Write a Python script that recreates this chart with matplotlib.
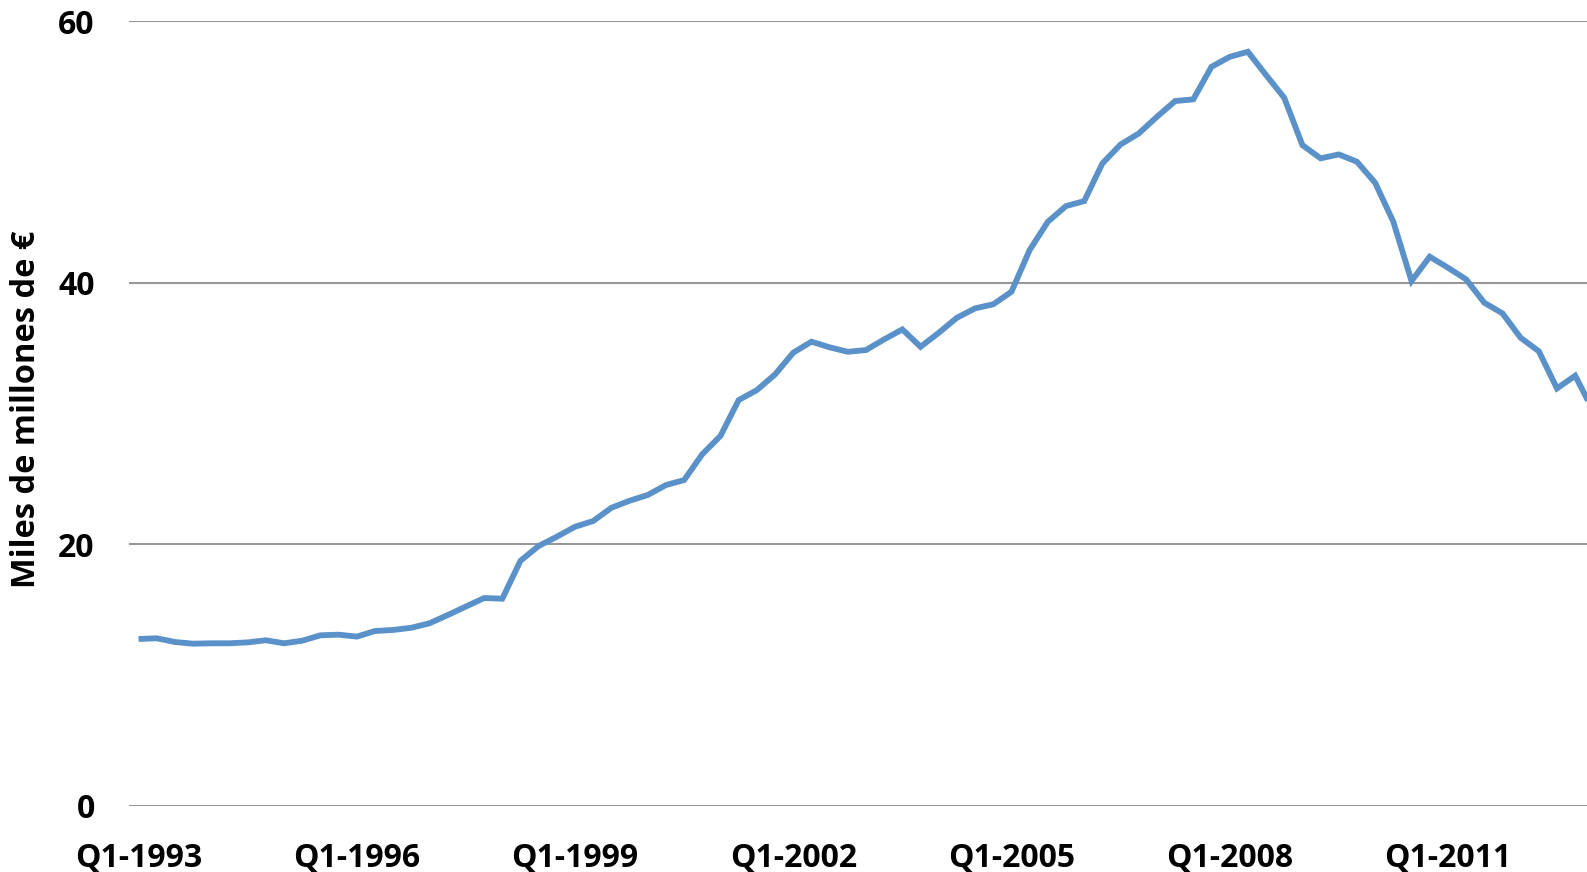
import matplotlib
matplotlib.use("Agg")
import matplotlib.pyplot as plt

# Quarterly series, Q1-1993 onwards (miles de millones de €)
values = [
    12.77, 12.82, 12.54, 12.41, 12.44, 12.44, 12.51, 12.67,   # 1993-1994
    12.44, 12.64, 13.05, 13.10, 12.95, 13.38, 13.46, 13.63,   # 1995-1996
    13.97, 14.60, 15.25, 15.90, 15.85, 18.75, 19.88, 20.59,   # 1997-1998
    21.35, 21.79, 22.80, 23.34, 23.78, 24.54, 24.92, 26.90,   # 1999-2000
    28.30, 31.04, 31.80, 33.00, 34.66, 35.50, 35.07, 34.73,   # 2001-2002
    34.86, 35.68, 36.44, 35.11, 36.18, 37.33, 38.05, 38.36,   # 2003-2004
    39.32, 42.51, 44.67, 45.87, 46.25, 49.13, 50.58, 51.42,   # 2005-2006
    52.70, 53.90, 54.03, 56.52, 57.28, 57.67, 55.89, 54.15,   # 2007-2008
    50.53, 49.52, 49.82, 49.26, 47.65, 44.67, 40.14, 42.00,   # 2009-2010
    41.16, 40.27, 38.48, 37.67, 35.80, 34.77, 31.93, 32.90,   # 2011-2012
    30.20,
]
tick_labels = ["Q1-1993", "Q1-1996", "Q1-1999", "Q1-2002",
               "Q1-2005", "Q1-2008", "Q1-2011"]
tick_step = 12          # one label every three years (12 quarters)
y_ticks = [0, 20, 40, 60]
y_title = "Miles de millones de €"

line_color = "#5A91C8"
grid_color = "#979797"

plt.rcParams["font.family"] = ["Open Sans", "DejaVu Sans"]

fig = plt.figure(figsize=(15.87, 8.72), dpi=100)
ax = fig.add_axes([0.0816, 0.0757, 0.9184, 0.8999])

x = list(range(len(values)))
ax.plot(x, values, color=line_color, linewidth=4.2, solid_joinstyle="miter",
        solid_capstyle="butt", zorder=3)

ax.set_xlim(-0.5, 79.65)
ax.set_ylim(0, 60)

ax.set_yticks(y_ticks)
ax.set_yticklabels([str(v) for v in y_ticks], fontsize=23, fontweight="bold")
ax.set_xticks([i * tick_step for i in range(len(tick_labels))])
ax.set_xticklabels(tick_labels, fontsize=23, fontweight="bold")

ax.tick_params(axis="y", length=0, pad=25)
ax.tick_params(axis="x", length=0, pad=26)

ax.grid(axis="y", color=grid_color, linewidth=1.5, zorder=1)
ax.grid(axis="x", visible=False)
for s in ax.spines.values():
    s.set_visible(False)

fig.text(26.5 / 1587, 1 - 409 / 872, y_title, rotation=90, ha="center",
         va="center", fontsize=23.5, fontweight="bold")

fig.savefig("out.png", dpi=100)
